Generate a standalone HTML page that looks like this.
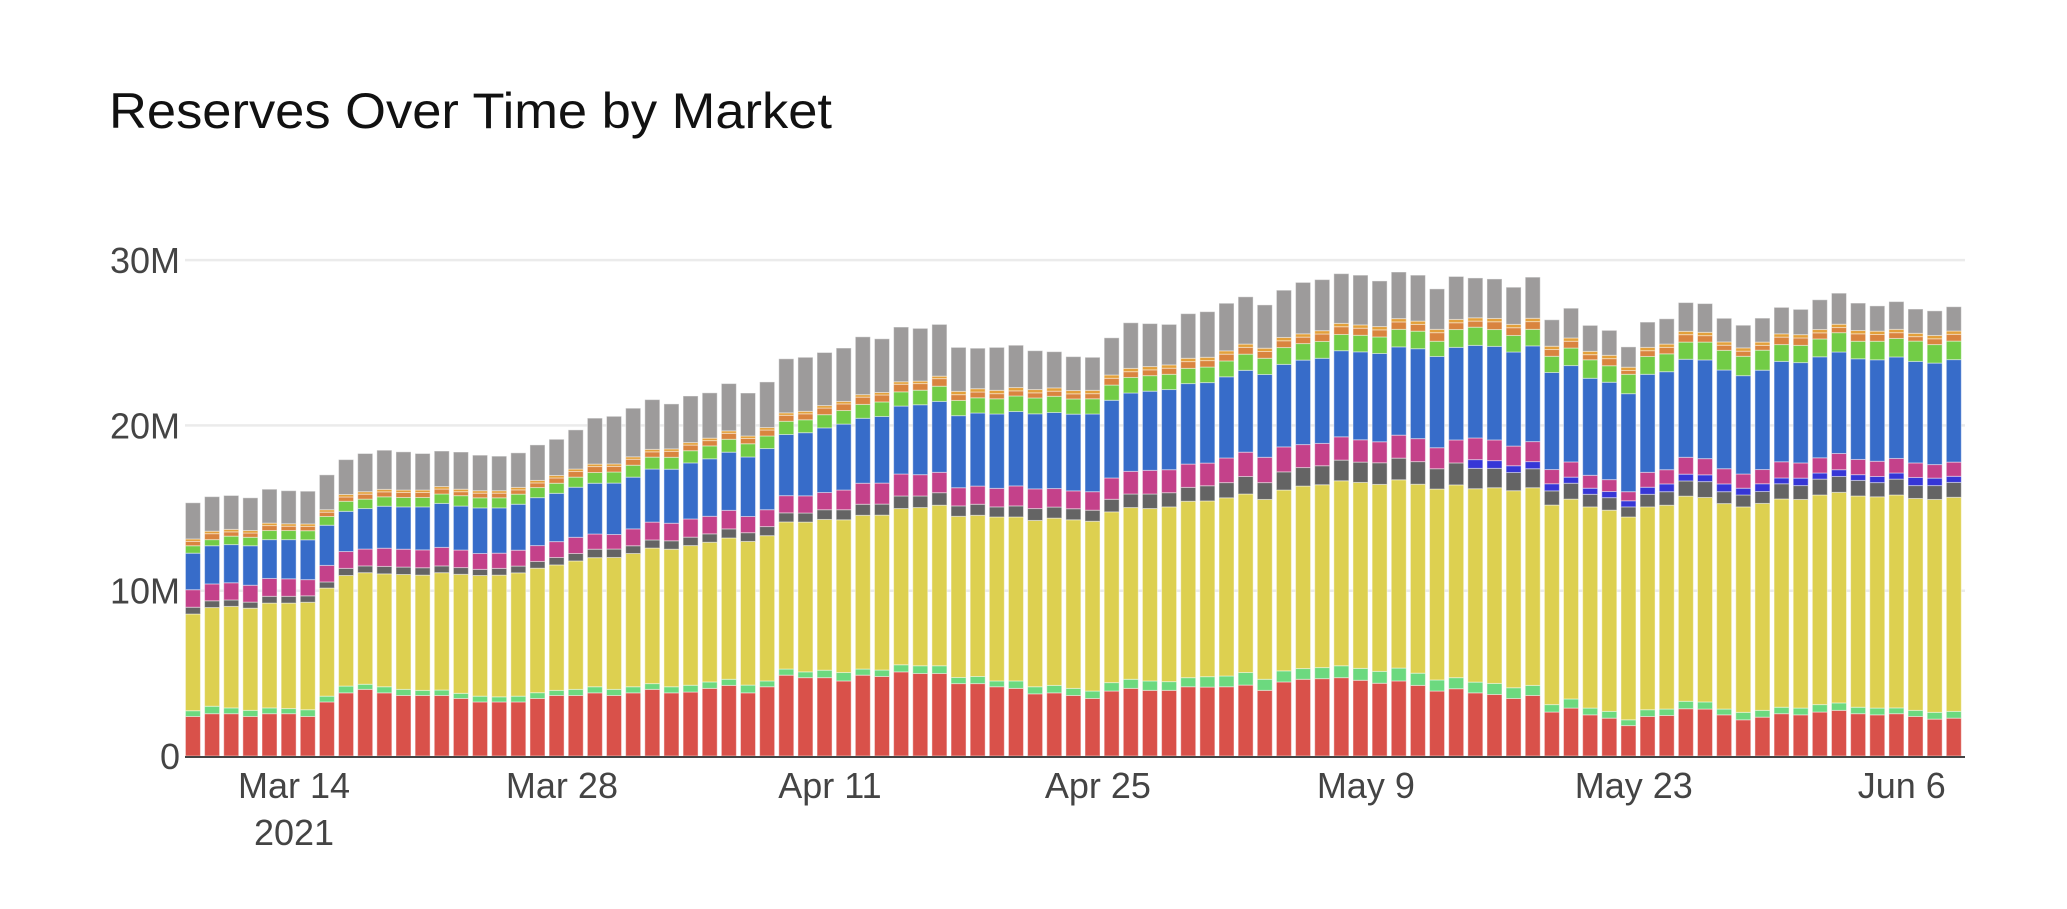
<!DOCTYPE html>
<html><head><meta charset="utf-8"><title>Reserves Over Time by Market</title>
<style>
html,body{margin:0;padding:0;background:#fff;}
svg{display:block;font-family:"Liberation Sans",Arial,sans-serif;}
</style></head>
<body>
<svg id="chart" width="2067" height="909" viewBox="0 0 2067 909">
<rect x="0" y="0" width="2067" height="909" fill="#fff"/>
<text x="109" y="128" font-size="50" fill="#111" textLength="723" lengthAdjust="spacingAndGlyphs">Reserves Over Time by Market</text>
<g id="grid"></g>
<g id="bars"></g>
<g id="axes"></g>
</svg>
<script>
const startDate = "2021-03-09";
const barCount = 93;
const yTicks = [0, 10, 20, 30];
const yTickLabels = ["0", "10M", "20M", "30M"];
const xTickDates = ["2021-03-14","2021-03-28","2021-04-11","2021-04-25","2021-05-09","2021-05-23","2021-06-06"];
const xTickLabels = ["Mar 14","Mar 28","Apr 11","Apr 25","May 9","May 23","Jun 6"];
const seriesNames = ["red","lightgreen","yellow","darkgray","darkblue","magenta","blue","green","orangeDark","orangeLight","gray"];

const red = [2.39,2.56,2.56,2.39,2.56,2.56,2.39,3.27,3.82,4.03,3.82,3.66,3.66,3.66,3.48,3.27,3.27,3.27,3.48,3.66,3.66,3.82,3.66,3.82,4.03,3.82,3.87,4.09,4.27,3.82,4.19,4.89,4.74,4.74,4.54,4.89,4.81,5.09,4.99,4.99,4.38,4.38,4.19,4.09,3.76,3.82,3.66,3.48,3.93,4.09,3.97,3.97,4.19,4.17,4.19,4.29,3.97,4.48,4.64,4.68,4.74,4.58,4.40,4.54,4.27,3.93,4.07,3.82,3.72,3.48,3.66,2.66,2.90,2.49,2.29,1.84,2.39,2.45,2.86,2.84,2.49,2.19,2.35,2.56,2.49,2.66,2.76,2.56,2.49,2.56,2.39,2.23,2.29];
const lightgreen = [.35,.45,.35,.37,.35,.31,.41,.35,.41,.31,.37,.37,.31,.33,.31,.35,.31,.35,.35,.31,.37,.37,.37,.37,.35,.37,.41,.39,.37,.47,.35,.37,.35,.45,.51,.37,.39,.43,.47,.47,.37,.43,.35,.45,.43,.45,.43,.45,.51,.55,.57,.53,.55,.63,.65,.76,.67,.67,.65,.67,.72,.72,.72,.78,.74,.67,.67,.65,.67,.65,.61,.45,.55,.41,.41,.35,.41,.39,.45,.43,.35,.45,.41,.39,.41,.45,.45,.39,.41,.35,.37,.41,.41];
const yellow = [5.85,5.97,6.14,6.18,6.34,6.38,6.50,6.54,6.69,6.75,6.83,6.95,6.97,7.10,7.20,7.30,7.36,7.46,7.53,7.59,7.77,7.81,7.98,8.06,8.20,8.32,8.45,8.45,8.55,8.69,8.79,8.90,9.06,9.12,9.24,9.30,9.37,9.45,9.57,9.71,9.75,9.75,9.92,9.92,10.06,10.12,10.20,10.27,10.33,10.39,10.43,10.57,10.67,10.63,10.78,10.80,10.88,10.94,11.04,11.06,11.19,11.25,11.31,11.39,11.43,11.55,11.66,11.70,11.84,11.92,11.96,12.07,12.09,12.17,12.17,12.27,12.27,12.33,12.41,12.37,12.43,12.43,12.52,12.60,12.62,12.68,12.74,12.78,12.78,12.88,12.82,12.88,12.95];
const darkgray = [.41,.41,.39,.37,.41,.41,.39,.37,.43,.41,.45,.45,.45,.41,.41,.37,.41,.41,.41,.45,.45,.51,.51,.47,.49,.51,.51,.51,.55,.53,.55,.55,.55,.59,.61,.67,.67,.76,.70,.76,.63,.67,.61,.67,.72,.67,.67,.67,.76,.82,.88,.86,.84,.92,.92,1.06,1.02,1.10,1.12,1.15,1.25,1.23,1.31,1.31,1.37,1.23,1.33,1.23,1.17,1.10,1.15,.86,.96,.76,.76,.61,.76,.82,.92,.96,.72,.72,.72,.92,.84,.96,.96,.94,.86,.96,.78,.84,.90];
const darkblue = [0,0,0,0,0,0,0,0,0,0,0,0,0,0,0,0,0,0,0,0,0,0,0,0,0,0,0,0,0,0,0,0,0,0,0,0,0,0,0,0,0,0,0,0,0,0,0,0,0,0,0,0,0,0,0,0,0,0,0,0,0,0,0,0,0,0,0,.53,.47,.41,.43,.43,.37,.37,.37,.37,.43,.47,.41,.41,.47,.41,.47,.35,.45,.37,.41,.35,.37,.37,.49,.45,.37];
const magenta = [1.06,1.02,1.04,1.02,1.08,1.06,.98,1.00,1.02,1.02,1.10,1.08,1.08,1.12,1.06,.96,.92,.96,.96,.96,.98,.92,.88,1.02,1.08,1.06,1.10,1.06,1.12,.98,1.02,1.04,1.04,1.04,1.19,1.27,1.27,1.33,1.29,1.23,1.10,1.10,1.12,1.21,1.19,1.12,1.08,1.12,1.29,1.37,1.43,1.39,1.41,1.37,1.49,1.47,1.53,1.51,1.39,1.35,1.41,1.35,1.27,1.39,1.39,1.27,1.39,1.31,1.25,1.19,1.21,.86,.92,.78,.72,.55,.90,.86,1.02,.98,.92,.86,.86,.98,.92,.92,.98,.92,.92,.88,.88,.82,.86];
const blue = [2.21,2.31,2.31,2.39,2.35,2.37,2.41,2.43,2.43,2.45,2.54,2.56,2.60,2.66,2.66,2.76,2.74,2.78,2.90,2.92,3.03,3.07,3.11,3.13,3.21,3.27,3.39,3.48,3.52,3.60,3.70,3.70,3.82,3.91,3.99,3.93,4.03,4.11,4.23,4.29,4.36,4.42,4.50,4.50,4.54,4.60,4.64,4.70,4.70,4.74,4.79,4.85,4.87,4.87,4.91,4.95,5.01,4.99,5.11,5.15,5.21,5.32,5.34,5.34,5.44,5.52,5.60,5.60,5.66,5.69,5.79,5.87,5.83,5.87,5.89,5.93,5.93,5.93,5.93,5.97,5.97,5.95,6.01,6.07,6.07,6.11,6.14,6.09,6.14,6.14,6.14,6.14,6.20];
const green = [.45,.37,.51,.51,.55,.55,.55,.53,.61,.57,.57,.57,.57,.57,.63,.61,.61,.61,.61,.61,.61,.65,.67,.72,.72,.72,.74,.78,.78,.80,.76,.80,.78,.80,.82,.84,.88,.86,.88,.92,.92,.92,.92,.94,.96,.98,.92,.92,.92,.94,.94,.92,.92,.94,.96,.98,.98,1.02,1.00,1.02,.98,1.00,1.00,1.06,1.06,.92,1.08,1.10,1.02,1.00,1.00,.98,1.06,1.12,1.00,1.17,1.08,1.08,1.04,1.08,1.19,1.17,1.21,1.02,1.04,1.08,1.17,1.06,1.12,1.12,1.23,1.12,1.12];
const orangeDark = [.26,.36,.26,.26,.30,.26,.26,.26,.26,.30,.30,.30,.30,.30,.24,.28,.28,.26,.28,.32,.34,.36,.34,.36,.32,.36,.34,.32,.36,.32,.36,.36,.36,.40,.40,.44,.42,.46,.40,.46,.35,.35,.31,.31,.31,.31,.31,.31,.41,.35,.35,.37,.41,.39,.41,.41,.41,.41,.39,.45,.47,.43,.43,.45,.41,.52,.41,.37,.47,.47,.47,.41,.41,.31,.43,.23,.35,.39,.45,.39,.31,.31,.29,.45,.45,.37,.31,.45,.41,.35,.27,.35,.41];
const orangeLight = [.15,.15,.15,.15,.15,.15,.15,.15,.15,.15,.15,.15,.15,.15,.15,.15,.15,.15,.15,.15,.15,.15,.15,.15,.15,.15,.15,.15,.15,.15,.15,.15,.15,.15,.15,.15,.15,.15,.15,.15,.2,.2,.2,.2,.2,.2,.2,.2,.2,.2,.2,.2,.2,.2,.2,.2,.2,.2,.2,.2,.2,.2,.2,.2,.2,.2,.2,.2,.2,.2,.2,.2,.2,.2,.2,.2,.2,.2,.2,.2,.2,.2,.2,.2,.2,.2,.2,.2,.2,.2,.2,.2,.2];
const gray = [2.19,2.09,2.05,1.98,2.05,2.00,1.98,2.11,2.11,2.31,2.37,2.31,2.21,2.15,2.25,2.15,2.09,2.09,2.15,2.19,2.37,2.78,2.88,2.94,3.01,2.72,2.82,2.74,2.86,2.60,2.76,3.27,3.27,3.21,3.23,3.50,3.25,3.31,3.19,3.13,2.66,2.45,2.60,2.56,2.35,2.19,2.05,2.00,2.25,2.76,2.60,2.45,2.70,2.76,2.88,2.86,2.62,2.86,3.11,3.09,3.01,3.01,2.76,2.82,2.78,2.45,2.60,2.41,2.39,2.25,2.49,1.60,1.80,1.57,1.51,1.23,1.53,1.53,1.74,1.74,1.43,1.37,1.45,1.60,1.53,1.80,1.88,1.66,1.53,1.68,1.47,1.49,1.47];

const seriesData = [red, lightgreen, yellow, darkgray, darkblue, magenta, blue, green, orangeDark, orangeLight, gray];
const seriesColors = ["#d9514a","#6cd97f","#ddd050","#646464","#3636d6","#c4418a","#376cc9","#72cc46","#d9843f","#e3a03a","#9d9b9b"];

const NS = "http://www.w3.org/2000/svg";
const DAY = 86400000;
const plotLeft = 185, plotRight = 1965, yZero = 756, pxPerM = 16.53;
const refTime = Date.UTC(2021,2,14), refX = 294, pxPerDay = 19.14;
const barTimeShift = -0.28;
function xScale(t){ return refX + (t - refTime)/DAY*pxPerDay; }
function yScale(v){ return yZero - v*pxPerM; }
function parseDate(s){ const p=s.split("-"); return Date.UTC(+p[0], +p[1]-1, +p[2]); }
function mk(tag, attrs, parent){ const e=document.createElementNS(NS,tag); for(const k in attrs) e.setAttribute(k, attrs[k]); parent.appendChild(e); return e; }

const categories = [];
for(let i=0;i<barCount;i++){ categories.push(new Date(parseDate(startDate)+i*DAY).toISOString().slice(0,10)); }

const grid = document.getElementById("grid");
const bars = document.getElementById("bars");
const axes = document.getElementById("axes");

yTicks.forEach((v,i)=>{
  if(v>0){
    const g = mk("line",{x1:plotLeft,x2:plotRight,y1:yScale(v),y2:yScale(v),stroke:"#ebebeb","stroke-width":2.5},grid);
    
    
  }
  const t = mk("text",{x:180,y:yScale(v)+13,"text-anchor":"end","font-size":36,fill:"#444"},axes);
  t.textContent = yTickLabels[i];
  
  
});

const barW = 15;
categories.forEach((d,i)=>{
  const cx = xScale(parseDate(d) + barTimeShift*DAY);
  let base = 0;
  const g = mk("g",{},bars);
  
  
  seriesData.forEach((arr,s)=>{
    const v = arr[i];
    if(v>0){
      const y1 = yScale(base+v), y0 = yScale(base);
      const r = mk("rect",{x:cx-barW/2,y:y1,width:barW,height:y0-y1,fill:seriesColors[s],stroke:"rgba(255,255,255,0.45)","stroke-width":1},g);
      
      
    }
    base += v;
  });
});

const zl = mk("line",{x1:plotLeft,x2:plotRight,y1:yZero+1,y2:yZero+1,stroke:"#444","stroke-width":2},axes);



xTickDates.forEach((d,i)=>{
  const x = xScale(parseDate(d));
  const t = mk("text",{x:x,y:798,"text-anchor":"middle","font-size":36,fill:"#444"},axes);
  t.textContent = xTickLabels[i];
  
  
  if(i===0){
    const y = mk("text",{x:x,y:845,"text-anchor":"middle","font-size":36,fill:"#444"},axes);
    y.textContent = "2021";
    
    
  }
});
</script>
</body></html>
